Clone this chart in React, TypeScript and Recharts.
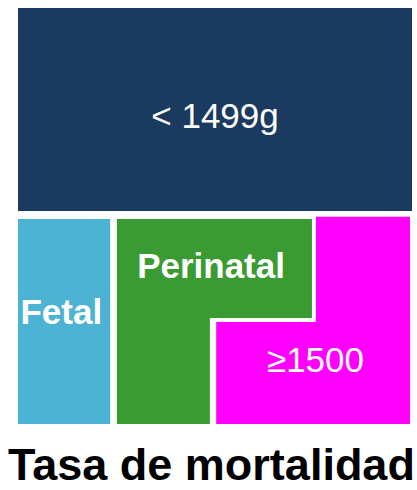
import { ComposedChart, XAxis, YAxis, ReferenceArea, Scatter } from 'recharts';

// blocks of the diagram, in percent of the drawing area (x from left, y from bottom)
const blockNames = ['< 1499g', 'Fetal', 'Perinatal', 'Perinatal', '≥1500', '≥1500'];
const blockX = [[0, 100], [0, 23.4], [25.1, 74.6], [25.1, 48.7], [75.6, 99.5], [50.3, 99.5]];
const blockY = [[51.2, 100], [0, 49.3], [25.5, 49.3], [0, 25.5], [0, 49.8], [0, 24.5]];

const labelNames = ['< 1499g', 'Perinatal', 'Fetal', '≥1500'];
const labelX = [50, 49, 11, 75.5];
const labelY = [74.2, 38.2, 27, 15.5];
const labelBold = [false, true, true, false];

const title = 'Tasa de mortalidad';

const colors: Record<string, string> = {
  '< 1499g': '#1b3a60',
  Fetal: '#4db3d4',
  Perinatal: '#3a9b32',
  '≥1500': '#ff00ff'
};

const labels = labelNames.map((name, i) => ({ name, x: labelX[i], y: labelY[i], bold: labelBold[i] }));

const LabelText = (props: any) => {
  const { cx, cy, payload } = props;
  return (
    <text
      x={cx}
      y={cy}
      dy="0.355em"
      textAnchor="middle"
      fill="#fff"
      fontSize={35}
      fontWeight={payload.bold ? 'bold' : 'normal'}
      fontFamily="Liberation Sans, Arial, sans-serif"
    >
      {payload.name}
    </text>
  );
};

export default function App() {
  return (
    <div style={{ position: 'absolute', left: 0, top: 0, width: 417, height: 490, background: '#fff' }}>
      <ComposedChart width={417} height={490} data={labels} margin={{ top: 8, right: 5, bottom: 66, left: 18 }}>
        <XAxis type="number" dataKey="x" domain={[0, 100]} hide />
        <YAxis type="number" dataKey="y" domain={[0, 100]} hide />
        {blockNames.map((name, i) => (
          <ReferenceArea
            key={'b' + i}
            x1={blockX[i][0]}
            x2={blockX[i][1]}
            y1={blockY[i][0]}
            y2={blockY[i][1]}
            fill={colors[name]}
            fillOpacity={1}
            stroke="none"
            ifOverflow="visible"
          />
        ))}
        <Scatter data={labels} dataKey="y" shape={<LabelText />} isAnimationActive={false} />
      </ComposedChart>
      <div
        style={{
          position: 'absolute',
          left: 0,
          top: 443,
          width: 423,
          textAlign: 'center',
          fontFamily: 'Liberation Sans, Arial, sans-serif',
          fontWeight: 'bold',
          fontSize: 45,
          lineHeight: '44px',
          color: '#000',
          whiteSpace: 'nowrap'
        }}
      >
        {title}
      </div>
    </div>
  );
}
